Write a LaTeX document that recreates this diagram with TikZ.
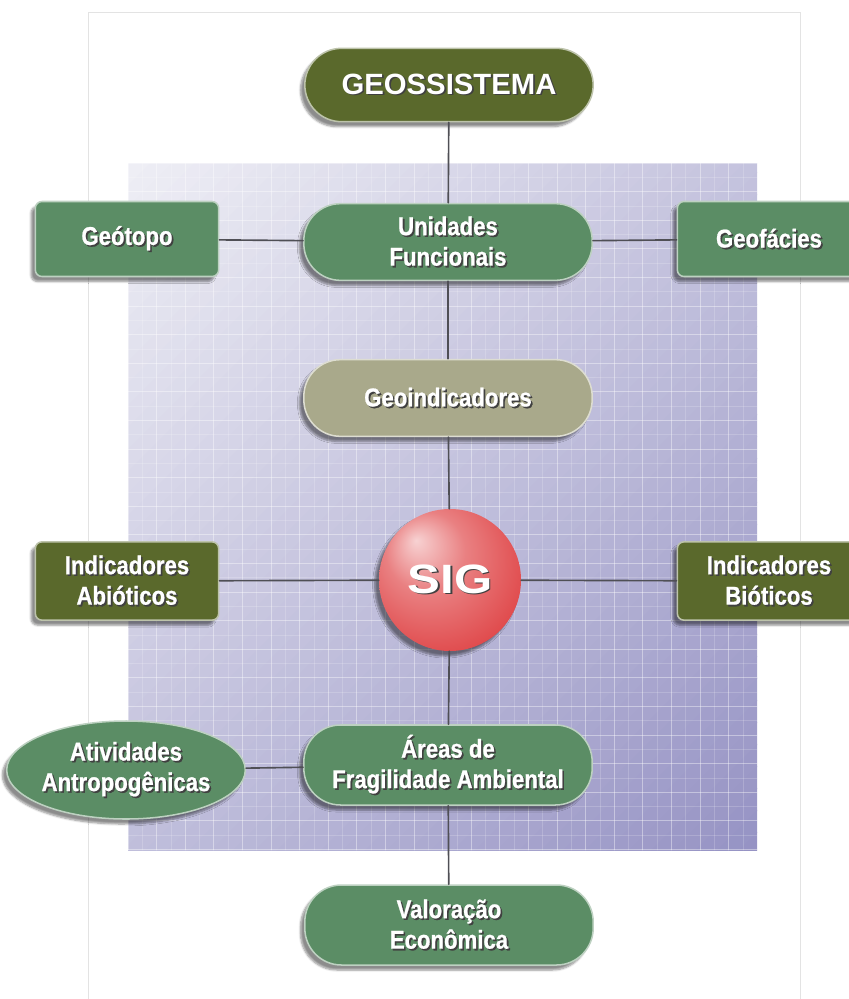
\documentclass[tikz,border=0pt]{standalone}
\usepackage{fontspec}
\usetikzlibrary{shapes.geometric,shadows.blur}
\newfontfamily\condfont[FakeStretch=0.86,BoldFeatures={FakeBold=0.8}]{Liberation Sans}
\newfontfamily\plainfont{Liberation Sans}
\newfontfamily\widefont[FakeStretch=1.2]{Liberation Sans}
\definecolor{gsolive}{HTML}{5A692C}
\definecolor{gsgreen}{HTML}{5B8D65}
\definecolor{gskhaki}{HTML}{A9A98B}
\definecolor{gsred}{HTML}{E04A4C}
\definecolor{gsgridhi}{HTML}{EEEEF5}
\definecolor{gsgridlo}{HTML}{9693C4}
\definecolor{gslink}{HTML}{4F4F55}
\pgfdeclareradialshading{sigball}{\pgfpoint{-12bp}{14bp}}{%
  color(0bp)=(gsred!25!white); color(14bp)=(gsred!70!white);
  color(32bp)=(gsred); color(46bp)=(gsred!92!black); color(50bp)=(gsred!60!white)}
% white letters with a dark offset shadow
\newcommand{\shtxt}[1]{\rlap{\kern1.4pt\raisebox{-1.4pt}{\textcolor{black!75}{#1}}}#1}

\begin{document}
\begin{tikzpicture}[
  x=0.3mm, y=-0.3mm,
  line cap=round,
  boxshadow/.style={blur shadow={shadow xshift=-1.3mm, shadow yshift=-1.5mm, shadow blur steps=6, shadow opacity=45}},
  pill/.style={rectangle, rounded corners=11mm, minimum width=86.5mm, minimum height=23mm,
    fill=#1, draw=#1!40!white, line width=1.3pt, boxshadow, text=white, align=center, inner sep=0pt,
    font=\condfont\bfseries\fontsize{22}{26}\selectfont},
  sidebox/.style={rectangle, rounded corners=2mm, minimum width=55mm, minimum height=22.5mm,
    fill=#1, draw=#1!40!white, line width=1.3pt, boxshadow, text=white, align=center, inner sep=0pt,
    font=\condfont\bfseries\fontsize{22}{26}\selectfont},
  gridmajor/.style={white, opacity=0.4, line width=0.7pt},
  gridminor/.style={white, opacity=0.18, line width=0.5pt},
  link/.style={draw=gslink, line width=1.4pt},
]
\useasboundingbox (0,0) rectangle (849,999);

% ---------- grid panel ----------
\draw[gray!22, line width=0.6pt] (88,1010) -- (88,12) -- (800,12) -- (800,1010);
\begin{scope}
  \clip (128,163) rectangle (757,850);
  % diagonal colour bands, light top left to lavender bottom right
  \foreach \k in {0,...,59} {
    \pgfmathsetmacro{\pct}{\k*100/59}
    \fill[gsgridlo!\pct!gsgridhi] ({291+\k*22},0) -- ({314+\k*22},0) -- ({314+\k*22-1000},1000) -- ({291+\k*22-1000},1000) -- cycle;
  }
  \foreach \gx in {128,156.6,...,757} {
    \draw[gridmajor] (\gx,163) -- (\gx,850);
    \draw[gridminor] ({\gx+14.3},163) -- ({\gx+14.3},850);
  }
  \foreach \gy in {163,191.6,...,850} {
    \draw[gridmajor] (128,\gy) -- (757,\gy);
    \draw[gridminor] (128,{\gy+14.3}) -- (757,{\gy+14.3});
  }
\end{scope}

% ---------- nodes ----------
\node[pill=gsolive, minimum height=22mm, font=\plainfont\bfseries\fontsize{25}{28}\selectfont] (geo) at (449,85) {\shtxt{GEOSSISTEMA}};
\node[pill=gsgreen] (uni) at (448,242) {\shtxt{Unidades}\\\shtxt{Funcionais}};
\node[sidebox=gsgreen] (geot) at (127,239) {\shtxt{Geótopo}};
\node[sidebox=gsgreen] (geof) at (769,239) {\shtxt{Geofácies}};
\node[pill=gskhaki] (geoind) at (448,398) {\shtxt{Geoindicadores}};
\node[circle, minimum size=42.6mm, inner sep=0pt, shading=sigball, boxshadow, text=white,
  font=\widefont\bfseries\fontsize{35}{38}\selectfont] (sig) at (450,580) {\shtxt{SIG}};
\node[sidebox=gsolive, minimum height=23.5mm] (abio) at (127,581) {\shtxt{Indicadores}\\\shtxt{Abióticos}};
\node[sidebox=gsolive, minimum height=23.5mm] (bio) at (769,581) {\shtxt{Indicadores}\\\shtxt{Bióticos}};
\node[ellipse, minimum width=62.4mm, minimum height=29.4mm, inner sep=0pt, fill=gsgreen, draw=gsgreen!40!white,
  line width=1.3pt, boxshadow, text=white, align=center,
  font=\condfont\bfseries\fontsize{22}{26}\selectfont] (ativ) at (126,770) {\shtxt{Atividades}\\\shtxt{Antropogênicas}};
\node[pill=gsgreen, minimum height=24mm] (areas) at (448,765) {\shtxt{Áreas de}\\\shtxt{Fragilidade Ambiental}};
\node[pill=gsgreen, minimum height=24mm] (val) at (449,925) {\shtxt{Valoração}\\\shtxt{Econômica}};

% ---------- connectors ----------
\draw[link] (geo) -- (uni) -- (geoind) -- (sig) -- (areas) -- (val);
\draw[link] (geot) -- (uni) -- (geof);
\draw[link] (abio) -- (sig) -- (bio);
\draw[link] (ativ) -- (areas);
\end{tikzpicture}
\end{document}
